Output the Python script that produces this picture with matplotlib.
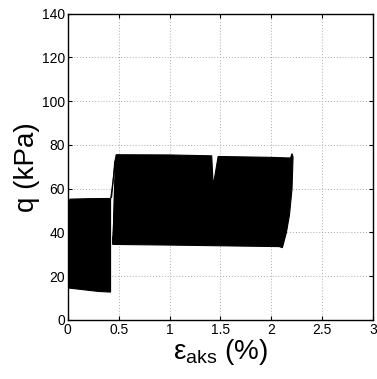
import matplotlib
matplotlib.use("Agg")
import matplotlib.pyplot as plt

plt.rcParams['font.family'] = ['Liberation Sans', 'DejaVu Sans']
plt.rcParams['mathtext.fontset'] = 'custom'
plt.rcParams['mathtext.rm'] = 'Liberation Sans'

# Envelope of the cyclic loops, stage 1 (strain %, q kPa)
stage1_x = [0.00, 0.00, 0.005, 0.02, 0.20, 0.41, 0.42, 0.42, 0.30, 0.00]
stage1_q = [14.6, 45.0, 52.0, 55.2, 55.4, 55.5, 55.0, 12.7, 13.0, 14.6]

# Envelope of the cyclic loops, stage 2
stage2_x = [0.445, 0.455, 0.465, 0.475, 1.00, 1.415, 1.428, 1.436, 1.478, 2.00, 2.19, 2.205, 2.215,
            2.205, 2.18, 2.15, 2.11, 2.08, 1.00, 0.445]
stage2_q = [34.5, 45.0, 62.0, 75.5, 75.4, 75.0, 63.0, 63.0, 74.7, 74.3, 74.0, 76.0, 74.5,
            60.0, 48.0, 40.0, 33.0, 33.5, 34.2, 34.5]

# Open transition loops between the stages
loop1_x = [0.42, 0.44, 0.46, 0.475, 0.465, 0.45, 0.44, 0.445, 0.46, 0.48]
loop1_q = [55.0, 62.0, 70.0, 75.0, 62.0, 45.0, 36.0, 34.5, 50.0, 75.0]
loop2_x = [0.43, 0.445, 0.46, 0.47, 0.455, 0.45, 0.455, 0.47, 0.485]
loop2_q = [56.0, 63.0, 72.0, 74.0, 55.0, 38.0, 35.0, 55.0, 75.0]

fig = plt.figure(figsize=(3.77, 3.79), dpi=100)
ax = fig.add_axes([0.180, 0.156, 0.809, 0.808])

ax.fill(stage1_x, stage1_q, color='black', lw=0.8, ec='black')
ax.fill(stage2_x, stage2_q, color='black', lw=0.8, ec='black')
ax.plot(loop1_x, loop1_q, color='black', lw=0.8)
ax.plot(loop2_x, loop2_q, color='black', lw=0.8)

ax.set_xlim(0, 3)
ax.set_ylim(0, 140)
ax.set_xticks([0, 0.5, 1, 1.5, 2, 2.5, 3])
ax.set_xticklabels(['0', '0.5', '1', '1.5', '2', '2.5', '3'])
ax.set_yticks([0, 20, 40, 60, 80, 100, 120, 140])
ax.grid(True, color='#aaaaaa', lw=0.7, dashes=(1, 2))
ax.set_axisbelow(True)
ax.tick_params(direction='in', top=True, right=True, length=3, labelsize=10, pad=2)
for s in ax.spines.values():
    s.set_linewidth(1.0)

ax.set_ylabel('q (kPa)', fontsize=20, labelpad=1)
ax.set_xlabel(r'$\mathrm{ε}_{\mathrm{aks}}$ (%)', fontsize=20, labelpad=0)

fig.savefig('out.png', dpi=100)
